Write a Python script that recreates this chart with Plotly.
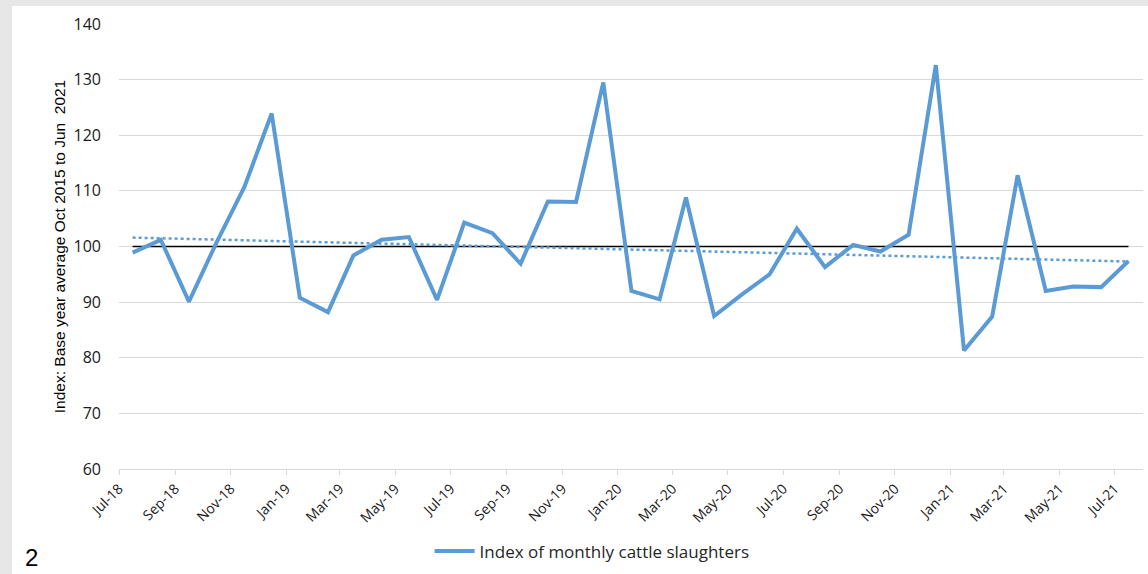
import pandas as pd
import plotly.graph_objects as go

# Monthly index of cattle slaughters (base: average Oct 2015 to Jun 2021 = 100)
months = pd.date_range("2018-07-01", "2021-07-01", freq="MS") + pd.Timedelta(days=15)
slaughter_index = [
    98.9, 101.2, 90.1, 100.6, 110.7, 123.9, 90.8, 88.2, 98.4, 101.2, 101.7, 90.4,
    104.3, 102.4, 96.9, 108.1, 108.0, 129.5, 92.0, 90.5, 108.8, 87.5, 91.3, 95.0,
    103.2, 96.3, 100.3, 99.1, 102.1, 132.6, 81.3, 87.4, 112.8, 92.0, 92.8, 92.7,
    97.4,
]
base_level = [100] * len(slaughter_index)

# linear trendline, start and end values
trend_ends = [101.6, 97.3]
trend_dates = [months[0], months[-1]]

series_name = "Index of monthly cattle slaughters"
y_title = "Index: Base year average Oct 2015 to Jun  2021"
footnote = "2"

BLUE = "#5b9bd5"
GRID = "#d9d9d9"

fig = go.Figure()
fig.add_trace(go.Scatter(
    x=months, y=base_level, mode="lines",
    line=dict(color="black", width=1.5), showlegend=False, hoverinfo="skip",
))
fig.add_trace(go.Scatter(
    x=trend_dates, y=trend_ends, mode="lines",
    line=dict(color=BLUE, width=2.5, dash="dot"), showlegend=False, hoverinfo="skip",
))
fig.add_trace(go.Scatter(
    x=months, y=slaughter_index, mode="lines", name=series_name,
    line=dict(color=BLUE, width=4),
))

W, H = 1148, 574
L, R, T, B = 119, 5, 24, 105
pw, ph = W - L - R, H - T - B

def px_to_paper(px, py):
    return (px - L) / pw, (H - B - py) / ph

# white chart card over a light grey frame
x0, y0 = px_to_paper(12, 574)
x1, y1 = px_to_paper(1148, 6)
fig.add_shape(type="rect", xref="paper", yref="paper", x0=x0, y0=y0, x1=x1, y1=y1,
              fillcolor="white", line=dict(width=0), layer="below")

fx, fy = px_to_paper(31, 557)
fig.add_annotation(text=footnote, xref="paper", yref="paper", x=fx, y=fy,
                   showarrow=False, xanchor="center", yanchor="middle",
                   font=dict(family="Liberation Sans Narrow, Liberation Sans", size=24, color="black"))

fig.update_layout(
    width=W, height=H,
    margin=dict(l=L, r=R, t=T, b=B),
    paper_bgcolor="#e7e7e7",
    plot_bgcolor="white",
    font=dict(family="Open Sans", color="#262626"),
    legend=dict(orientation="h", x=0.462, xanchor="center", y=-0.185, yanchor="middle",
                font=dict(size=17, color="#262626"), bgcolor="rgba(0,0,0,0)",
                itemwidth=40),
    xaxis=dict(
        range=["2018-07-01", "2021-08-01"],
        tickmode="linear", tick0="2018-07-01", dtick="M2",
        tickformat="%b-%y", tickangle=-45,
        tickfont=dict(size=14, color="#1a1a1a"),
        showgrid=False, showline=True, linecolor=GRID, linewidth=1,
        ticks="outside", ticklen=5, tickcolor=GRID,
        zeroline=False,
    ),
    yaxis=dict(
        range=[60, 140], dtick=10,
        tickfont=dict(size=16, color="#1a1a1a"),
        ticklabelstandoff=17,
        showgrid=True, gridcolor=GRID, gridwidth=1,
        showline=False, zeroline=False, ticks="", ticklen=0,
        title=dict(text=y_title, standoff=4,
                   font=dict(family="Liberation Sans Narrow, Liberation Sans", size=15.5, color="black")),
    ),
)

fig.write_html("out.html")
